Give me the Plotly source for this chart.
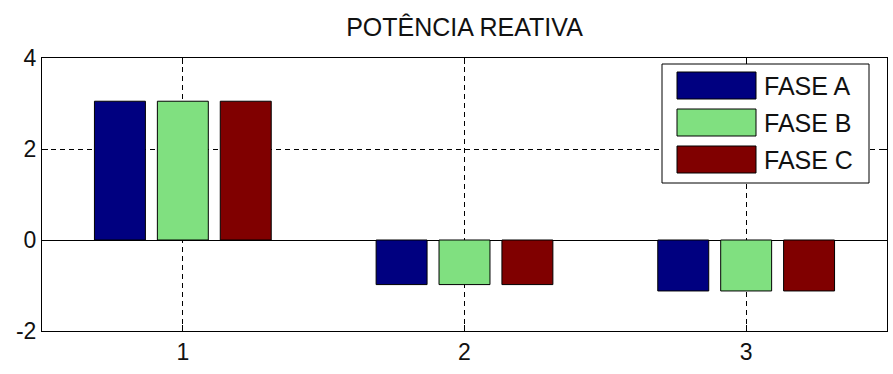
import plotly.graph_objects as go

# Reactive power per phase for each of three measurement points
categories = [1, 2, 3]
series_names = ["FASE A", "FASE B", "FASE C"]
fase_a = [3.05, -0.98, -1.12]
fase_b = [3.05, -0.98, -1.12]
fase_c = [3.05, -0.98, -1.12]
series_values = [fase_a, fase_b, fase_c]
colors = ["#000080", "#80E080", "#800000"]
y_ticks = [-2, 0, 2, 4]
y_tick_text = ["-2", "0", "2", "4"]
title_text = "POTÊNCIA REATIVA"

W, H = 893, 374
ML, MR, MT, MB = 42, 6, 58, 43
FONT = "Liberation Sans, Arial, sans-serif"
FS = 25

fig = go.Figure()
for name, vals, col in zip(series_names, series_values, colors):
    fig.add_trace(go.Bar(
        x=categories, y=vals, name=name,
        marker=dict(color=col, line=dict(color="black", width=1)),
        showlegend=False,
    ))

axis_common = dict(
    showline=True, linecolor="black", linewidth=1, mirror="ticks",
    ticks="inside", ticklen=6, tickcolor="black", tickwidth=1,
    showgrid=True, gridcolor="black", gridwidth=1, griddash="5px,4px",
    tickfont=dict(family=FONT, size=FS - 2, color="#111"),
)

fig.update_xaxes(range=[0.5, 3.5], tickvals=categories, zeroline=False, **axis_common)
fig.update_yaxes(range=[-2, 4], tickvals=y_ticks, ticktext=y_tick_text, zeroline=True,
                 zerolinecolor="black", zerolinewidth=1, **axis_common)

# Boxed legend with large swatches, placed in the upper right of the axes
pw = W - ML - MR
ph = H - MT - MB
def px_x(v):
    return (v - ML) / pw
def px_y(v):
    return (H - MB - v) / ph

shapes = [dict(type="rect", xref="paper", yref="paper",
               x0=px_x(662), x1=px_x(869), y0=px_y(183), y1=px_y(64),
               fillcolor="white", line=dict(color="black", width=1), layer="above")]
annotations = []
row_tops = [72, 109, 146]
for name, col, top in zip(series_names, colors, row_tops):
    shapes.append(dict(type="rect", xref="paper", yref="paper",
                       x0=px_x(677), x1=px_x(756), y0=px_y(top + 27), y1=px_y(top),
                       fillcolor=col, line=dict(color="black", width=1), layer="above"))
    annotations.append(dict(xref="paper", yref="paper", x=px_x(762), y=px_y(top + 13.5),
                            text=name, showarrow=False, xanchor="left", yanchor="middle",
                            font=dict(family=FONT, size=FS, color="#111")))

fig.update_layout(
    width=W, height=H,
    margin=dict(l=ML, r=MR, t=MT, b=MB),
    paper_bgcolor="white", plot_bgcolor="white",
    barmode="group", bargap=0.33, bargroupgap=0.19,
    title=dict(text=title_text, x=(ML + pw / 2) / W, xanchor="center",
               y=1 - 27 / H, yanchor="middle", yref="container",
               font=dict(family=FONT, size=FS, color="#111")),
    shapes=shapes, annotations=annotations,
)

fig.write_html("out.html")
